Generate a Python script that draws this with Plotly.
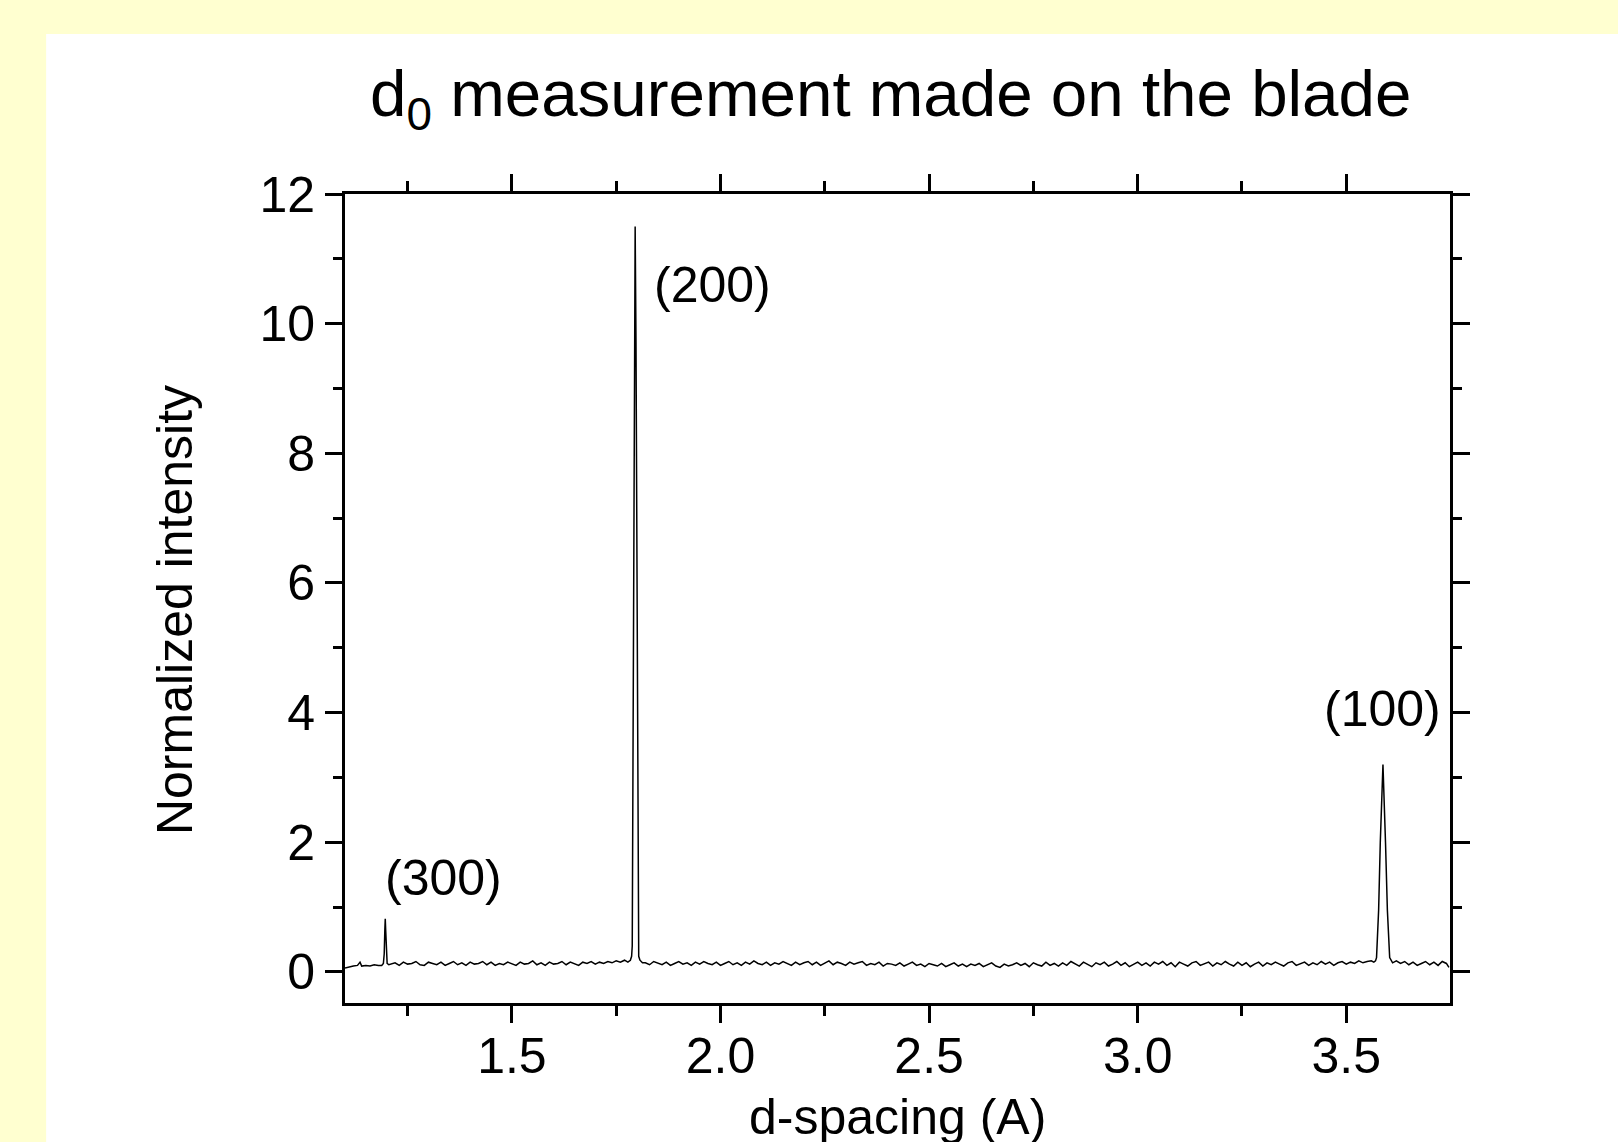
import plotly.graph_objects as go

# ---------------- data ----------------
# baseline segments of the spectrum (d-spacing in Angstrom, normalized intensity)
base1_d = [1.10, 1.11, 1.12, 1.13, 1.136, 1.14, 1.15, 1.16, 1.17, 1.18]
base1_i = [0.06, 0.08, 0.09, 0.10, 0.15, 0.09, 0.10, 0.09, 0.11, 0.10]

base2_d = [1.21, 1.22, 1.23, 1.24, 1.25, 1.26, 1.27, 1.28, 1.29, 1.30,
           1.31, 1.32, 1.33, 1.34, 1.35, 1.36, 1.37, 1.38, 1.39, 1.40,
           1.41, 1.42, 1.43, 1.44, 1.45, 1.46, 1.47, 1.48, 1.49, 1.50,
           1.51, 1.52, 1.53, 1.54, 1.55, 1.56, 1.57, 1.58, 1.59, 1.60,
           1.61, 1.62, 1.63, 1.64, 1.65, 1.66, 1.67, 1.68, 1.69, 1.70,
           1.71, 1.72, 1.73, 1.74, 1.75, 1.76, 1.77]
base2_i = [0.12, 0.14, 0.10, 0.15, 0.12, 0.13, 0.16, 0.11, 0.10, 0.15,
           0.13, 0.11, 0.15, 0.10, 0.13, 0.16, 0.11, 0.14, 0.10, 0.15,
           0.12, 0.13, 0.16, 0.11, 0.15, 0.10, 0.13, 0.11, 0.15, 0.13,
           0.10, 0.15, 0.12, 0.13, 0.17, 0.11, 0.14, 0.10, 0.15, 0.12,
           0.13, 0.16, 0.11, 0.15, 0.13, 0.10, 0.15, 0.13, 0.16, 0.12,
           0.15, 0.13, 0.16, 0.14, 0.17, 0.15, 0.18]

base3_d = [1.82, 1.83, 1.84, 1.85, 1.86, 1.87, 1.88, 1.89, 1.90, 1.91,
           1.92, 1.93, 1.94, 1.95, 1.96, 1.97, 1.98, 1.99, 2.00, 2.01,
           2.02, 2.03, 2.04, 2.05, 2.06, 2.07, 2.08, 2.09, 2.10, 2.11,
           2.12, 2.13, 2.14, 2.15, 2.16, 2.17, 2.18, 2.19, 2.20, 2.21,
           2.22, 2.23, 2.24, 2.25, 2.26, 2.27, 2.28, 2.29, 2.30, 2.31,
           2.32, 2.33, 2.34, 2.35, 2.36, 2.37, 2.38, 2.39, 2.40, 2.41,
           2.42, 2.43, 2.44, 2.45, 2.46, 2.47, 2.48, 2.49, 2.50, 2.51,
           2.52, 2.53, 2.54, 2.55, 2.56, 2.57, 2.58, 2.59, 2.60, 2.61,
           2.62, 2.63, 2.64, 2.65, 2.66, 2.67, 2.68, 2.69, 2.70, 2.71,
           2.72, 2.73, 2.74, 2.75, 2.76, 2.77, 2.78, 2.79, 2.80, 2.81,
           2.82, 2.83, 2.84, 2.85, 2.86, 2.87, 2.88, 2.89, 2.90, 2.91,
           2.92, 2.93, 2.94, 2.95, 2.96, 2.97, 2.98, 2.99, 3.00, 3.01,
           3.02, 3.03, 3.04, 3.05, 3.06, 3.07, 3.08, 3.09, 3.10, 3.11,
           3.12, 3.13, 3.14, 3.15, 3.16, 3.17, 3.18, 3.19, 3.20, 3.21,
           3.22, 3.23, 3.24, 3.25, 3.26, 3.27, 3.28, 3.29, 3.30, 3.31,
           3.32, 3.33, 3.34, 3.35, 3.36, 3.37, 3.38, 3.39, 3.40, 3.41,
           3.42, 3.43, 3.44, 3.45, 3.46, 3.47, 3.48, 3.49, 3.50, 3.51,
           3.52, 3.53, 3.54, 3.55, 3.56]
base3_i = [0.14, 0.11, 0.16, 0.13, 0.11, 0.15, 0.10, 0.13, 0.16, 0.12,
           0.14, 0.10, 0.15, 0.12, 0.16, 0.13, 0.11, 0.15, 0.10, 0.13,
           0.16, 0.11, 0.14, 0.10, 0.15, 0.12, 0.17, 0.13, 0.11, 0.15,
           0.10, 0.14, 0.12, 0.16, 0.13, 0.10, 0.15, 0.11, 0.14, 0.16,
           0.11, 0.15, 0.10, 0.13, 0.17, 0.11, 0.15, 0.13, 0.10, 0.15,
           0.12, 0.14, 0.16, 0.10, 0.13, 0.11, 0.15, 0.09, 0.13, 0.12,
           0.10, 0.14, 0.09, 0.12, 0.15, 0.10, 0.12, 0.08, 0.13, 0.11,
           0.09, 0.13, 0.08, 0.11, 0.14, 0.09, 0.12, 0.08, 0.12, 0.10,
           0.13, 0.08, 0.11, 0.14, 0.09, 0.07, 0.12, 0.09, 0.11, 0.14,
           0.10, 0.13, 0.08, 0.14, 0.11, 0.09, 0.15, 0.10, 0.13, 0.09,
           0.14, 0.10, 0.16, 0.12, 0.09, 0.15, 0.12, 0.08, 0.14, 0.11,
           0.15, 0.09, 0.12, 0.16, 0.10, 0.14, 0.08, 0.12, 0.15, 0.10,
           0.14, 0.09, 0.15, 0.12, 0.16, 0.10, 0.14, 0.08, 0.15, 0.12,
           0.09, 0.14, 0.16, 0.10, 0.12, 0.15, 0.09, 0.14, 0.11, 0.16,
           0.12, 0.09, 0.15, 0.10, 0.14, 0.08, 0.12, 0.15, 0.09, 0.14,
           0.11, 0.15, 0.12, 0.09, 0.14, 0.16, 0.10, 0.12, 0.15, 0.10,
           0.14, 0.11, 0.16, 0.12, 0.15, 0.10, 0.14, 0.16, 0.12, 0.15,
           0.13, 0.17, 0.14, 0.16, 0.17]

base4_d = [3.62, 3.63, 3.64, 3.65, 3.66, 3.67, 3.68, 3.69, 3.70, 3.71,
           3.72, 3.73, 3.74, 3.746]
base4_i = [0.17, 0.13, 0.16, 0.11, 0.15, 0.10, 0.13, 0.16, 0.11, 0.15,
           0.10, 0.16, 0.13, 0.07]

# diffraction peaks
peak300_d = [1.1880, 1.1920, 1.1940, 1.1955, 1.1965, 1.1975, 1.1990, 1.2010, 1.2050]
peak300_i = [0.10, 0.13, 0.28, 0.65, 0.82, 0.65, 0.28, 0.13, 0.11]

peak200_d = [1.7780, 1.7840, 1.7870, 1.7885, 1.7890, 1.7910, 1.7935, 1.7955,
             1.7975, 1.8000, 1.8020, 1.8025, 1.8040, 1.8070, 1.8130]
peak200_i = [0.15, 0.18, 0.24, 0.40, 1.10, 5.0, 9.7, 11.5,
             9.7, 5.0, 1.10, 0.40, 0.24, 0.18, 0.14]

peak100_d = [3.5660, 3.5700, 3.5725, 3.5775, 3.5815, 3.5879, 3.5940, 3.5985,
             3.6040, 3.6070, 3.6110]
peak100_i = [0.15, 0.17, 0.22, 0.95, 2.0, 3.20, 2.0, 0.95,
             0.22, 0.18, 0.14]

peak_labels = ["(300)", "(200)", "(100)"]
label_d = [1.191, 1.836, 3.441]
label_i = [1.45, 10.60, 4.05]

x_ticks = [1.5, 2.0, 2.5, 3.0, 3.5]
y_ticks = [0, 2, 4, 6, 8, 10, 12]

# ---------------- assemble spectrum ----------------
pairs = []
for ds, vs in [(base1_d, base1_i), (base2_d, base2_i), (base3_d, base3_i),
               (base4_d, base4_i), (peak300_d, peak300_i),
               (peak200_d, peak200_i), (peak100_d, peak100_i)]:
    pairs.extend(zip(ds, vs))
pairs.sort(key=lambda p: p[0])
d_all = [p[0] for p in pairs]
i_all = [p[1] for p in pairs]

FONT = "Liberation Sans, Arial, Helvetica, sans-serif"

fig = go.Figure()
fig.add_trace(go.Scatter(x=d_all, y=i_all, mode="lines",
                         line=dict(color="black", width=1.5),
                         showlegend=False, hoverinfo="skip"))

# plot area in pixels: x 345..1450.5, y 194..1003
L, R, T, B = 345, 1450.5, 194, 1003
W, H = 1618, 1142
pw, ph = R - L, B - T

def px(xp):
    return (xp - L) / pw

def py(yp):
    return (B - yp) / ph

# white panel on the yellow page
fig.add_shape(type="rect", xref="paper", yref="paper",
              x0=px(46), x1=px(W + 5), y0=py(H + 5), y1=py(34),
              fillcolor="white", line=dict(width=0), layer="below")

axis_common = dict(
    showline=True, linecolor="black", linewidth=3, mirror="allticks",
    ticks="outside", ticklen=17, tickwidth=2.5, tickcolor="black",
    showgrid=False, zeroline=False,
    tickfont=dict(family=FONT, size=50, color="black"),
)

fig.update_xaxes(range=[1.1, 3.7486], tickvals=x_ticks,
                 ticktext=[f"{v:.1f}" for v in x_ticks],
                 ticklabelstandoff=-10,
                 minor=dict(ticks="outside", ticklen=10, tickwidth=2.5,
                            tickcolor="black", dtick=0.25, tick0=0),
                 **axis_common)
fig.update_yaxes(range=[-0.48, 12.0], tickvals=y_ticks,
                 ticktext=[str(v) for v in y_ticks],
                 minor=dict(ticks="outside", ticklen=9, tickwidth=2.5,
                            tickcolor="black", dtick=1, tick0=0),
                 **axis_common)

annotations = []
for txt, xd, yd in zip(peak_labels, label_d, label_i):
    annotations.append(dict(x=xd, y=yd, xref="x", yref="y", text=txt,
                            showarrow=False, xanchor="left", yanchor="middle",
                            font=dict(family=FONT, size=50, color="black")))

# chart title
annotations.append(dict(x=px(891), y=py(98), xref="paper", yref="paper",
                        text="d<sub>0</sub> measurement made on the blade",
                        showarrow=False, xanchor="center", yanchor="middle",
                        font=dict(family=FONT, size=65.5, color="black")))
# axis titles
annotations.append(dict(x=px(898), y=py(1117), xref="paper", yref="paper",
                        text="d-spacing (A)", showarrow=False,
                        xanchor="center", yanchor="middle",
                        font=dict(family=FONT, size=50, color="black")))
annotations.append(dict(x=px(175), y=py(610), xref="paper", yref="paper",
                        text="Normalized intensity", showarrow=False,
                        textangle=-90, xanchor="center", yanchor="middle",
                        font=dict(family=FONT, size=50, color="black")))

fig.update_layout(
    width=W, height=H,
    margin=dict(l=L, r=W - R, t=T, b=H - B, pad=0),
    paper_bgcolor="#FFFFD0", plot_bgcolor="white",
    annotations=annotations,
    font=dict(family=FONT, color="black"),
    showlegend=False,
)

fig.write_html("out.html",
               config={"displayModeBar": False},
               post_script="document.body.style.margin='0';"
                           "document.body.style.overflow='hidden';")
